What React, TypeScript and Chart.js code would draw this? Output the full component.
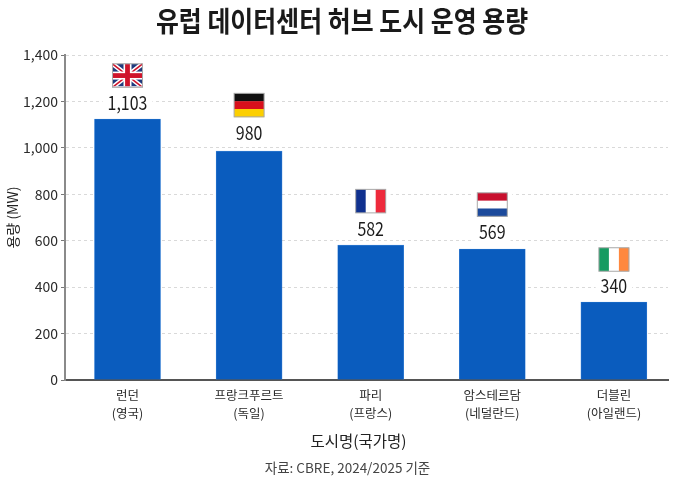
import React, { useEffect, useRef } from "react";
import { Chart, registerables } from "chart.js";

Chart.register(...registerables);

const titleText = "유럽 데이터센터 허브 도시 운영 용량";
const xAxisTitle = "도시명(국가명)";
const yAxisTitle = "용량 (MW)";
const sourceText = "자료: CBRE, 2024/2025 기준";
const cities = ["런던", "프랑크푸르트", "파리", "암스테르담", "더블린"];
const countries = ["(영국)", "(독일)", "(프랑스)", "(네덜란드)", "(아일랜드)"];
// Bar heights as drawn in the picture; the printed labels differ slightly.
const barHeights = [1124, 986, 581, 564, 336];
const printedLabels = ["1,103", "980", "582", "569", "340"];
const flags = ["uk", "de", "fr", "nl", "ie"];
const yTicks = [0, 200, 400, 600, 800, 1000, 1200, 1400];

const KR = '"Noto Sans CJK KR", "Noto Sans", sans-serif';
const labelLift = [16, 18, 16, 17, 16];
const flagLift = [43.5, 46, 44, 44.5, 42.5];

function condensedText(
  ctx: CanvasRenderingContext2D,
  text: string,
  cx: number,
  cy: number,
  font: string,
  color: string,
  sx: number
) {
  ctx.save();
  ctx.translate(cx, cy);
  ctx.scale(sx, 1);
  ctx.font = font;
  ctx.fillStyle = color;
  ctx.textAlign = "center";
  ctx.textBaseline = "middle";
  ctx.fillText(text, 0, 0);
  ctx.restore();
}

function stripes(ctx: CanvasRenderingContext2D, x: number, y: number, w: number, h: number, colors: string[], vertical: boolean) {
  colors.forEach((c, i) => {
    ctx.fillStyle = c;
    if (vertical) ctx.fillRect(x + (w * i) / colors.length, y, w / colors.length + 0.3, h);
    else ctx.fillRect(x, y + (h * i) / colors.length, w, h / colors.length + 0.3);
  });
}

function drawFlag(ctx: CanvasRenderingContext2D, code: string, cx: number, cy: number) {
  const w = 30, h = 23.5, x = cx - w / 2, y = cy - h / 2;
  ctx.save();
  if (code === "de") stripes(ctx, x, y, w, h, ["#111111", "#d8101c", "#fccf00"], false);
  if (code === "fr") stripes(ctx, x, y, w, h, ["#10318f", "#ffffff", "#ee2a3c"], true);
  if (code === "nl") stripes(ctx, x, y, w, h, ["#c8102e", "#ffffff", "#1c4a9c"], false);
  if (code === "ie") stripes(ctx, x, y, w, h, ["#169b62", "#ffffff", "#ff883e"], true);
  if (code === "uk") {
    ctx.beginPath();
    ctx.rect(x, y - 1, w, h);
    ctx.clip();
    ctx.fillStyle = "#1f3a7d";
    ctx.fillRect(x, y, w, h);
    const diag = (color: string, lw: number) => {
      ctx.strokeStyle = color;
      ctx.lineWidth = lw;
      ctx.beginPath();
      ctx.moveTo(x, y);
      ctx.lineTo(x + w, y + h);
      ctx.moveTo(x + w, y);
      ctx.lineTo(x, y + h);
      ctx.stroke();
    };
    diag("#ffffff", 4.5);
    diag("#cf142b", 1.6);
    ctx.fillStyle = "#ffffff";
    ctx.fillRect(cx - 4, y, 8, h);
    ctx.fillRect(x, cy - 4, w, 8);
    ctx.fillStyle = "#cf142b";
    ctx.fillRect(cx - 2.4, y, 4.8, h);
    ctx.fillRect(x, cy - 2.4, w, 4.8);
  }
  ctx.restore();
  ctx.strokeStyle = "#a8a8a8";
  ctx.lineWidth = 1;
  ctx.strokeRect(x, y, w, h);
}

const annotate = {
  id: "annotate",
  afterDatasetsDraw(chart: any) {
    const ctx: CanvasRenderingContext2D = chart.ctx;
    const bars = chart.getDatasetMeta(0).data;
    bars.forEach((bar: any, i: number) => {
      const labelY = bar.y - labelLift[i];
      const flagY = bar.y - flagLift[i];
      ctx.save();
      ctx.fillStyle = "#ffffff";
      ctx.font = "19px " + KR;
      const tw = ctx.measureText(printedLabels[i]).width * 0.84;
      ctx.fillRect(bar.x - tw / 2 - 5, labelY - 10, tw + 10, 20);
      ctx.fillRect(bar.x - 20, flagY - 15, 40, 30);
      ctx.restore();
      condensedText(ctx, printedLabels[i], bar.x, labelY, "19px " + KR, "#1c1c1c", 0.84);
      drawFlag(ctx, flags[i], bar.x, flagY);
    });
    condensedText(ctx, titleText, 342, 21, "bold 28px " + KR, "#1a1a1a", 0.89);
    condensedText(ctx, xAxisTitle, 358.5, 441, "15.5px " + KR, "#222222", 1);
    condensedText(ctx, sourceText, 347.5, 467.5, "13.5px " + KR, "#444444", 1);
  },
};

export default function App() {
  const ref = useRef<HTMLCanvasElement>(null);
  useEffect(() => {
    document.body.style.margin = "0";
    document.body.style.background = "#ffffff";
    const chart = new Chart(ref.current!, {
      type: "bar",
      data: {
        datasets: [
          {
            data: barHeights.map((v, i) => ({ x: i, y: v })),
            backgroundColor: "#0a5cbe",
            borderColor: "#3f86d8",
            borderWidth: 0.6,
            barThickness: 66,
          },
        ],
      },
      plugins: [annotate],
      options: {
        animation: false,
        responsive: false,
        devicePixelRatio: 1,
        layout: { padding: { left: 0, right: 12, top: 55, bottom: 0 } },
        plugins: {
          legend: { display: false },
          tooltip: { enabled: false },
        },
        scales: {
          x: {
            type: "linear",
            min: -0.514,
            max: 4.445,
            offset: false,
            afterBuildTicks(scale: any) {
              scale.ticks = cities.map((_, i) => ({ value: i }));
            },
            afterFit(scale: any) {
              scale.height = 101;
            },
            grid: { display: false, drawTicks: false },
            border: { color: "#555555", width: 2 },
            ticks: {
              autoSkip: false,
              maxRotation: 0,
              padding: 6,
              color: "#2a2a2a",
              font: { family: KR, size: 12.5, lineHeight: 1.45 },
              callback: (_v: any, i: number) => [cities[i], countries[i]],
            },
          },
          y: {
            min: 0,
            max: 1400,
            afterBuildTicks(scale: any) {
              scale.ticks = yTicks.map((value) => ({ value }));
            },
            afterFit(scale: any) {
              scale.width = 65;
            },
            grid: {
              color: "#d9d9d9",
              tickColor: "#777777",
              tickLength: 4,
              tickBorderDash: [],
            },
            border: { color: "#8a8a8a", width: 2, dash: [3, 3] },
            ticks: {
              padding: 3,
              color: "#2a2a2a",
              font: { family: KR, size: 14 },
              callback: (v: any) => Number(v).toLocaleString("en-US"),
            },
            title: {
              display: true,
              text: yAxisTitle,
              color: "#222222",
              font: { family: KR, size: 14 },
              padding: { top: 4.6, bottom: 0 },
            },
          },
        },
      } as any,
    });
    return () => chart.destroy();
  }, []);
  return <canvas ref={ref} width={680} height={481} style={{ display: "block" }} />;
}
